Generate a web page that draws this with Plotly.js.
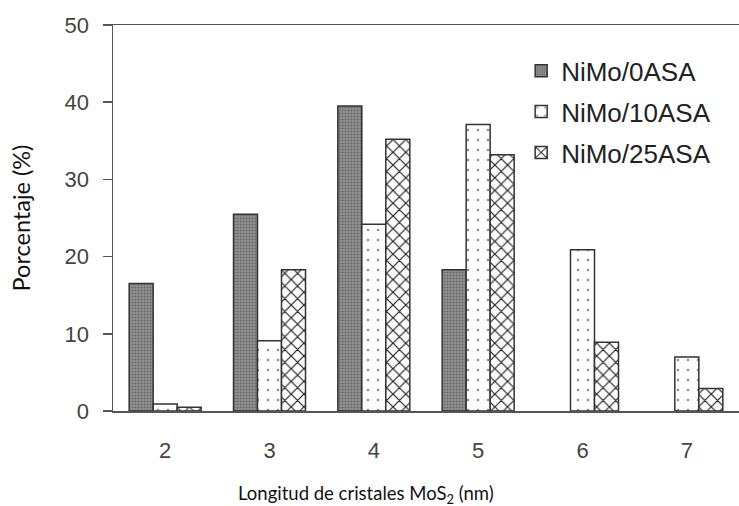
<!DOCTYPE html>
<html>
<head>
<meta charset="utf-8">
<script src="https://cdn.plot.ly/plotly-3.0.1.min.js"></script>
<style>html,body{margin:0;padding:0;background:#fff;}#chart{width:739px;height:506px;}</style>
</head>
<body>
<div id="chart"></div>
<script>
var categories = [2, 3, 4, 5, 6, 7];
var seriesNames = ["NiMo/0ASA", "NiMo/10ASA", "NiMo/25ASA"];
var values0ASA = [16.5, 25.5, 39.5, 18.3, null, null];
var values10ASA = [0.9, 9.1, 24.2, 37.1, 20.9, 7.0];
var values25ASA = [0.5, 18.3, 35.2, 33.2, 8.9, 2.9];
var yTicks = [0, 10, 20, 30, 40, 50];
var xTitle = "Longitud de cristales MoS<sub>2</sub> (nm)";
var yTitle = "Porcentaje (%)";

var outline = {color: "#333333", width: 1.5};
var traces = [
  {type: "bar", name: seriesNames[0], x: categories, y: values0ASA, legendgroup: "a",
   marker: {color: "#858585", line: outline,
     pattern: {shape: ".", fillmode: "replace", bgcolor: "#939393", fgcolor: "#666666", size: 3, solidity: 0.4}}},
  {type: "bar", name: seriesNames[1], x: categories, y: values10ASA, legendgroup: "b",
   marker: {color: "#ffffff", line: outline,
     pattern: {shape: ".", fillmode: "replace", bgcolor: "#ffffff", fgcolor: "#8a8a8a", size: 10, solidity: 0.05}}},
  {type: "bar", name: seriesNames[2], x: categories, y: values25ASA, legendgroup: "c",
   marker: {color: "#ffffff", line: outline,
     pattern: {shape: "x", fillmode: "replace", bgcolor: "#ffffff", fgcolor: "#222222", size: 9, solidity: 0.25}}}
];

var layout = {
  width: 739, height: 506,
  margin: {l: 113, r: 0, t: 25, b: 95},
  paper_bgcolor: "#ffffff", plot_bgcolor: "#ffffff",
  barmode: "group", bargap: 0.31, bargroupgap: 0,
  showlegend: true,
  legend: {x: 0.652, y: 0.942, xanchor: "left", yanchor: "top", bgcolor: "rgba(0,0,0,0)",
    font: {family: "Liberation Sans, Arial, sans-serif", size: 26, color: "#222222"},
    tracegroupgap: 4, itemwidth: 30},
  xaxis: {range: [1.5, 7.5], tickvals: categories, ticktext: categories.map(String),
    showline: true, linecolor: "#555555", linewidth: 1.5, mirror: true,
    ticks: "", showgrid: false, zeroline: false, ticklabelstandoff: 19,
    tickfont: {family: "Liberation Sans, Arial, sans-serif", size: 22, color: "#444444"}},
  yaxis: {range: [0, 50], tickvals: yTicks, ticktext: yTicks.map(String),
    showline: true, linecolor: "#555555", linewidth: 1.5,
    ticks: "outside", ticklen: 9, tickwidth: 1.5, tickcolor: "#555555",
    showgrid: false, zeroline: false, ticklabelstandoff: 9,
    tickfont: {family: "Liberation Sans, Arial, sans-serif", size: 22, color: "#444444"},
    title: {text: yTitle, standoff: 27,
      font: {family: "Lato, Noto Sans, sans-serif", size: 23.5, color: "#111111"}}},
  annotations: [
    {text: xTitle, xref: "paper", yref: "paper", x: 0.404, y: -0.178, xanchor: "center", yanchor: "top",
     showarrow: false, font: {family: "Lato, Noto Sans, sans-serif", size: 18.5, color: "#111111"}}
  ]
};

Plotly.newPlot("chart", traces, layout, {displayModeBar: false, staticPlot: true});
</script>
</body>
</html>
